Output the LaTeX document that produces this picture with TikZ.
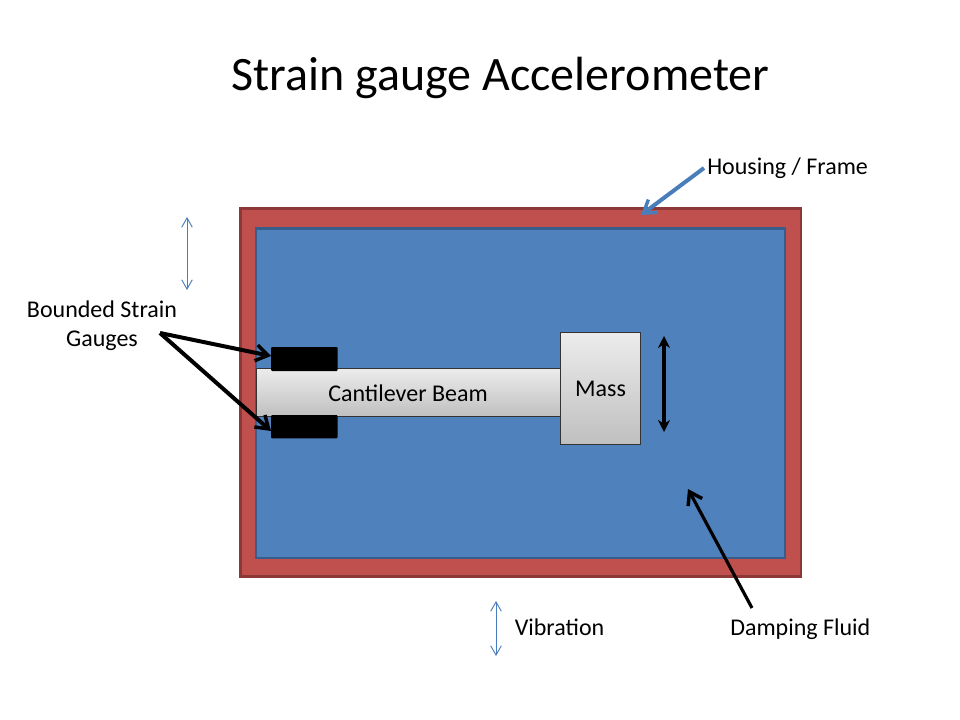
\documentclass[tikz,border=0pt]{standalone}
\usepackage{fontspec}
\setmainfont{Carlito}
\usetikzlibrary{arrows.meta}
\definecolor{frameRed}{HTML}{C0504D}
\definecolor{frameEdge}{HTML}{8C3836}
\definecolor{fluidBlue}{HTML}{4F81BD}
\definecolor{fluidEdge}{HTML}{385D8A}
\definecolor{callBlue}{HTML}{4A7EBB}
\tikzset{
  box/.style={rectangle, inner sep=0pt, outer sep=0pt, anchor=north west},
  frame/.style={box, fill=frameRed, draw=frameEdge, line width=1.6pt},
  fluid/.style={box, fill=fluidBlue, draw=fluidEdge, line width=1.6pt},
  part/.style={box, top color=gray!15, bottom color=gray!50, draw=black!80, line width=0.6pt},
  gauge/.style={box, fill=black, rounded corners=0.8pt},
  lbl/.style={inner sep=0pt, font=\fontsize{18}{21.75}\selectfont, align=center},
  callout/.style={line width=3pt, -{Straight Barb[length=9pt,width=12pt,line width=2.6pt]}},
  vib/.style={draw=callBlue, line width=0.7pt, {Straight Barb[length=7pt,width=8pt]}-{Straight Barb[length=7pt,width=8pt]}}
}
\begin{document}
\begin{tikzpicture}[x=0.75pt,y=-0.75pt]
\useasboundingbox (0,0) rectangle (960,720);

\node (title) [inner sep=0pt, font=\fontsize{36}{40}\selectfont] at (500.5,78) {Strain gauge Accelerometer};

% housing and fluid
\node (frame) [frame, minimum width=420.5pt, minimum height=276pt] at (240.5,208.5) {};
\node (fluid) [fluid, minimum width=396.5pt, minimum height=247pt] at (256,228.5) {};

% beam, mass, gauges
\node (beam) [part, minimum width=228.5pt, minimum height=36pt] at (256.5,368.5) {};
\node (beamlbl) [lbl] at (408,393) {Cantilever Beam};
\node (mass) [part, minimum width=60pt, minimum height=84pt] at (560.5,332.5) {};
\node (masslbl) [lbl] at (600.5,389) {Mass};
\node (gaugeT) [gauge, minimum width=50pt, minimum height=18pt] at (271,347) {};
\node (gaugeB) [gauge, minimum width=50pt, minimum height=17.5pt] at (271,415) {};

% labels
\node (housing) [lbl, anchor=base west] at (707,175) {Housing / Frame};
\node (bounded) [lbl] at (102,326) {Bounded Strain\\Gauges};
\node (vibration) [lbl, anchor=base west] at (514.5,635) {Vibration};
\node (damping) [lbl, anchor=base west] at (730,635) {Damping Fluid};

% callouts
\coordinate (hS) at (704,168);
\coordinate (hE) at (641,215);
\coordinate (bS) at (160,333);
\coordinate (bT) at (271,356);
\coordinate (bB) at (271,431);
\coordinate (dS) at (752,608);
\coordinate (dE) at (688,489);
\draw [callout, draw=callBlue] (hS) -- (hE);
\draw [callout] (bS) -- (bT);
\draw [callout] (bS) -- (bB);
\draw [callout, line width=2.4pt] (dS) -- (dE);

% motion arrows
\coordinate (mT) at (664,336);
\coordinate (mB) at (664,432);
\draw [line width=3pt, {Stealth[length=9pt,width=9pt]}-{Stealth[length=9pt,width=9pt]}] (mT) -- (mB);
\coordinate (v1T) at (187,217);
\coordinate (v1B) at (187,290);
\draw [vib] (v1T) -- (v1B);
\coordinate (v2T) at (496,601);
\coordinate (v2B) at (496,656);
\draw [vib] (v2T) -- (v2B);
\end{tikzpicture}
\end{document}
